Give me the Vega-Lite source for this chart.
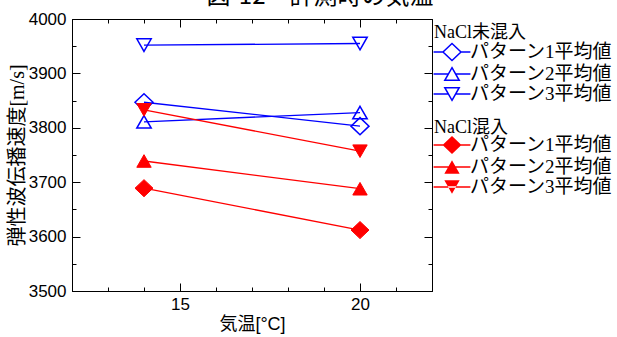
{
  "$schema": "https://vega.github.io/schema/vega-lite/v6.json",
  "autosize": "none",
  "width": 360,
  "height": 272,
  "padding": {"left": 72, "top": 19, "right": 185, "bottom": 46},
  "background": "white",
  "title": {"text": "図-12　計測時の気温", "font": "Noto Sans CJK JP", "fontSize": 24, "fontWeight": "normal", "color": "black", "anchor": "middle", "frame": "group", "dx": 68, "dy": 18, "offset": 0, "baseline": "alphabetic"},
  "datasets": {
    "blue": [
      {"series": "パターン1平均値", "temp": 14, "v": 3847},
      {"series": "パターン1平均値", "temp": 20, "v": 3803},
      {"series": "パターン2平均値", "temp": 14, "v": 3811},
      {"series": "パターン2平均値", "temp": 20, "v": 3828},
      {"series": "パターン3平均値", "temp": 14, "v": 3952},
      {"series": "パターン3平均値", "temp": 20, "v": 3955}
    ],
    "red": [
      {"series": "パターン1平均値", "temp": 14, "v": 3689},
      {"series": "パターン1平均値", "temp": 20, "v": 3612},
      {"series": "パターン2平均値", "temp": 14, "v": 3739},
      {"series": "パターン2平均値", "temp": 20, "v": 3688},
      {"series": "パターン3平均値", "temp": 14, "v": 3833},
      {"series": "パターン3平均値", "temp": 20, "v": 3757}
    ]
  },
  "config": {
    "view": {"stroke": null},
    "axis": {"grid": false, "domainColor": "black", "domainWidth": 1, "tickColor": "black", "tickWidth": 1, "labelColor": "black", "titleColor": "black", "labelFont": "Liberation Sans", "labelFontSize": 17, "titleFontWeight": "normal", "labelOverlap": false, "labelBound": false, "labelFlush": false},
    "legend": {"titleFont": "Liberation Serif, Noto Sans CJK JP", "titleFontSize": 18, "titleFontWeight": "normal", "titleColor": "black", "labelFont": "Liberation Serif, Noto Sans CJK JP", "labelFontSize": 19, "labelColor": "black", "padding": 0, "rowPadding": -2, "titlePadding": 0, "symbolSize": 324, "labelOffset": 8, "symbolOffset": 8, "symbolOpacity": 1, "symbolStrokeWidth": 1.5}
  },
  "layer": [
    {
      "data": {"name": "blue"},
      "mark": {"type": "line", "color": "#0000ff", "strokeWidth": 1.3},
      "encoding": {
        "x": {"field": "temp", "type": "quantitative", "scale": {"domain": [12, 22], "nice": false, "zero": false},
          "axis": {"orient": "bottom", "values": [15, 20], "tickSize": -8, "labelPadding": 13, "title": "気温[°C]", "titleFont": "Liberation Sans, Noto Sans CJK JP", "titleFontSize": 18, "titlePadding": 3}},
        "y": {"field": "v", "type": "quantitative", "scale": {"domain": [3500, 4000], "nice": false, "zero": false},
          "axis": {"orient": "left", "values": [3500, 3600, 3700, 3800, 3900, 4000], "format": "d", "tickSize": -8, "labelPadding": 14, "title": "弾性波伝播速度[m/s]", "titleFont": "Liberation Serif, Noto Sans CJK JP", "titleFontSize": 20, "titlePadding": 1}},
        "detail": {"field": "series"}
      }
    },
    {
      "data": {"name": "blue"},
      "mark": {"type": "point", "filled": false, "color": "#0000ff", "strokeWidth": 1.5, "size": 324, "opacity": 1},
      "encoding": {
        "x": {"field": "temp", "type": "quantitative", "axis": {"orient": "bottom", "values": [12, 13, 14, 15, 16, 17, 18, 19, 20, 21, 22], "tickSize": -4, "labels": false, "domain": false, "title": null}},
        "y": {"field": "v", "type": "quantitative", "axis": {"orient": "left", "values": [3500, 3550, 3600, 3650, 3700, 3750, 3800, 3850, 3900, 3950, 4000], "tickSize": -4, "labels": false, "domain": false, "title": null}},
        "shape": {"field": "series", "type": "nominal", "legend": null,
          "scale": {"domain": ["パターン1平均値", "パターン2平均値", "パターン3平均値"], "range": ["M0,-0.95L1,0L0,0.95L-1,0Z", "M0,-0.7L0.8,0.7L-0.8,0.7Z", "M0,0.7L0.8,-0.7L-0.8,-0.7Z"]}}
      }
    },
    {
      "data": {"name": "blue"},
      "mark": {"type": "point", "filled": false, "color": "#0000ff", "strokeWidth": 1.5, "size": 324, "opacity": 0},
      "encoding": {
        "x": {"field": "temp", "type": "quantitative", "axis": null},
        "y": {"field": "v", "type": "quantitative", "axis": null},
        "shape": {"field": "series", "type": "nominal",
          "scale": {"domain": ["パターン1平均値", "パターン2平均値", "パターン3平均値"], "range": ["M-2.05,0H-1M1,0H2.05M0,-0.95L1,0L0,0.95L-1,0Z", "M-2.05,0H-0.4M0.4,0H2.05M0,-0.7L0.8,0.7L-0.8,0.7Z", "M-2.05,0H-0.4M0.4,0H2.05M0,0.7L0.8,-0.7L-0.8,-0.7Z"]},
          "legend": {"title": "NaCl未混入", "orient": "none", "legendX": 362, "legendY": 5, "symbolStrokeColor": "#0000ff", "symbolFillColor": "transparent", "symbolOpacity": 1}}
      }
    },
    {
      "data": {"name": "red"},
      "mark": {"type": "line", "color": "#ff0000", "strokeWidth": 1.3},
      "encoding": {
        "x": {"field": "temp", "type": "quantitative", "axis": {"orient": "top", "values": [15, 20], "tickSize": -8, "labels": false, "title": null}},
        "y": {"field": "v", "type": "quantitative", "axis": {"orient": "right", "values": [3500, 3600, 3700, 3800, 3900, 4000], "tickSize": -8, "labels": false, "title": null}},
        "detail": {"field": "series"}
      }
    },
    {
      "data": {"name": "red"},
      "mark": {"type": "point", "filled": true, "color": "#ff0000", "stroke": "#ff0000", "strokeWidth": 1, "size": 324, "opacity": 1},
      "encoding": {
        "x": {"field": "temp", "type": "quantitative", "axis": {"orient": "top", "values": [12, 13, 14, 15, 16, 17, 18, 19, 20, 21, 22], "tickSize": -4, "labels": false, "domain": false, "title": null}},
        "y": {"field": "v", "type": "quantitative", "axis": {"orient": "right", "values": [3500, 3550, 3600, 3650, 3700, 3750, 3800, 3850, 3900, 3950, 4000], "tickSize": -4, "labels": false, "domain": false, "title": null}},
        "shape": {"field": "series", "type": "nominal", "legend": null,
          "scale": {"domain": ["パターン1平均値", "パターン2平均値", "パターン3平均値"], "range": ["M0,-0.95L1,0L0,0.95L-1,0Z", "M0,-0.7L0.8,0.7L-0.8,0.7Z", "M0,0.7L0.8,-0.7L-0.8,-0.7Z"]}}
      }
    },
    {
      "data": {"name": "red"},
      "mark": {"type": "point", "filled": true, "color": "#ff0000", "size": 324, "opacity": 0},
      "encoding": {
        "x": {"field": "temp", "type": "quantitative", "axis": null},
        "y": {"field": "v", "type": "quantitative", "axis": null},
        "shape": {"field": "series", "type": "nominal",
          "scale": {"domain": ["パターン1平均値", "パターン2平均値", "パターン3平均値"], "range": ["M-2.05,-0.08H2.05V0.08H-2.05ZM0,-1L1.05,0L0,1L-1.05,0Z", "M-2.05,-0.08H2.05V0.08H-2.05ZM0,-0.75L0.85,0.75L-0.85,0.75Z", "M-2.05,-0.08H2.05V0.08H-2.05ZM0,0.75L0.85,-0.75L-0.85,-0.75Z"]},
          "legend": {"title": "NaCl混入", "orient": "none", "legendX": 362, "legendY": 100, "titlePadding": -2, "symbolFillColor": "#ff0000", "symbolOpacity": 1}}
      }
    }
  ],
  "resolve": {"axis": {"x": "independent", "y": "independent"}, "scale": {"shape": "independent"}}
}
